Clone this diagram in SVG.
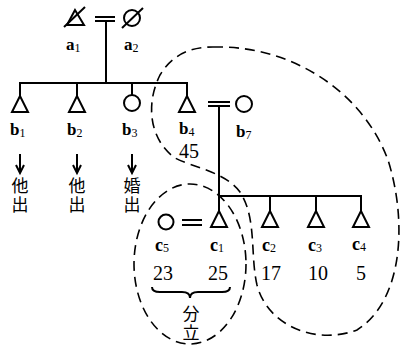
<svg xmlns="http://www.w3.org/2000/svg" width="401" height="348" viewBox="0 0 401 348">
<style>
.ln{stroke:#000;stroke-width:2;fill:none}
.sym{stroke:#000;stroke-width:2;fill:#fff}
.dash{stroke:#000;stroke-width:1.6;fill:none;stroke-dasharray:10 6}
.lbl{font-family:"Liberation Serif",serif;font-weight:bold;fill:#000}
.sub{font-size:12px;font-weight:normal}
.num{font-family:"Liberation Serif",serif;fill:#000;font-size:20px}
.cjk{font-family:"Noto Sans CJK JP","Noto Sans CJK SC",sans-serif;fill:#000;font-size:17px;writing-mode:vertical-rl;letter-spacing:2px}
</style>
<rect width="401" height="348" fill="#fff"/>
<g id="connectors">
<line class="ln" x1="95" y1="17" x2="115" y2="17"/>
<line class="ln" x1="95" y1="21" x2="115" y2="21"/>
<line class="ln" x1="106" y1="21" x2="106" y2="83"/>
<polyline class="ln" points="20,96 20,83 187,83 187,96"/>
<line class="ln" x1="77" y1="83" x2="77" y2="96"/>
<line class="ln" x1="132" y1="83" x2="132" y2="95"/>
<line class="ln" x1="208" y1="102" x2="230" y2="102"/>
<line class="ln" x1="208" y1="106" x2="230" y2="106"/>
<line class="ln" x1="219" y1="106" x2="219" y2="211"/>
<polyline class="ln" points="219,196 361,196 361,211"/>
<line class="ln" x1="270" y1="196" x2="270" y2="211"/>
<line class="ln" x1="316" y1="196" x2="316" y2="211"/>
<line class="ln" x1="182" y1="220" x2="202" y2="220"/>
<line class="ln" x1="182" y1="225" x2="202" y2="225"/>
<g class="ln" stroke-width="1.6">
<path d="M20,154 V172 M16,165 L20,173 L24,165"/>
<path d="M77,154 V172 M73,165 L77,173 L81,165"/>
<path d="M132,154 V172 M128,165 L132,173 L136,165"/>
</g>
<path class="ln" stroke-width="1.5" d="M152,287 Q152,292 160,292 L182,292 Q190,292 190,298 Q190,292 198,292 L222,292 Q230,292 230,287"/>
</g>
<g id="a1"><polygon class="sym" points="75,10 67,25 84,25"/><line class="ln" stroke-width="2.5" x1="64" y1="27" x2="85" y2="7"/>
<text class="lbl" x="66" y="50" font-size="17">a<tspan class="sub" dy="2">1</tspan></text></g>
<g id="a2"><circle class="sym" cx="132" cy="18" r="8"/><line class="ln" stroke-width="2" x1="122" y1="28" x2="143" y2="8"/>
<text class="lbl" x="124" y="50" font-size="17">a<tspan class="sub" dy="2">2</tspan></text></g>
<g id="b1"><polygon class="sym" points="20,96 12,112 28,112"/><text class="lbl" x="10" y="135" font-size="17">b<tspan class="sub" dy="2">1</tspan></text>
<text class="cjk" x="20" y="177">他出</text></g>
<g id="b2"><polygon class="sym" points="77,96 69,112 85,112"/><text class="lbl" x="67" y="135" font-size="17">b<tspan class="sub" dy="2">2</tspan></text>
<text class="cjk" x="77" y="177">他出</text></g>
<g id="b3"><circle class="sym" cx="132" cy="103" r="8"/><text class="lbl" x="122" y="135" font-size="17">b<tspan class="sub" dy="2">3</tspan></text>
<text class="cjk" x="132" y="177">婚出</text></g>
<g id="b4"><polygon class="sym" points="187,96 179,112 195,112"/><text class="lbl" x="179" y="134" font-size="17">b<tspan class="sub" dy="2">4</tspan></text>
<text class="num" x="189" y="158" text-anchor="middle" font-size="18">45</text></g>
<g id="b7"><circle class="sym" cx="244" cy="104" r="8"/><text class="lbl" x="236" y="137" font-size="17">b<tspan class="sub" dy="2">7</tspan></text></g>
<g id="c5"><circle class="sym" cx="166" cy="222" r="7.5"/><text class="lbl" x="155" y="251" font-size="18">c<tspan class="sub" dy="1">5</tspan></text>
<text class="num" x="163" y="280" text-anchor="middle">23</text></g>
<g id="c1"><polygon class="sym" points="219,211 211,227 227,227"/><text class="lbl" x="210" y="251" font-size="18">c<tspan class="sub" dy="1">1</tspan></text>
<text class="num" x="218" y="280" text-anchor="middle">25</text></g>
<g id="c2"><polygon class="sym" points="270,211 262,227 278,227"/><text class="lbl" x="262" y="251" font-size="18">c<tspan class="sub" dy="1">2</tspan></text>
<text class="num" x="271" y="280" text-anchor="middle">17</text></g>
<g id="c3"><polygon class="sym" points="316,211 308,227 324,227"/><text class="lbl" x="308" y="251" font-size="18">c<tspan class="sub" dy="1">3</tspan></text>
<text class="num" x="318" y="280" text-anchor="middle">10</text></g>
<g id="c4"><polygon class="sym" points="361,211 353,227 369,227"/><text class="lbl" x="352" y="250" font-size="18">c<tspan class="sub" dy="1">4</tspan></text>
<text class="num" x="361" y="280" text-anchor="middle">5</text></g>
<g id="bunritsu"><text class="cjk" x="191" y="305" font-size="16" letter-spacing="1">分立</text></g>
<g id="groups">
<ellipse class="dash" cx="190" cy="264" rx="56" ry="80"/>
<path class="dash" d="M213,47 C290,45 362,90 388,160 C407,220 404,300 357,330 C317,345 268,327 257,285 C250,255 257,218 240,192 C225,172 195,168 175,158 C150,140 145,105 160,75 C172,55 190,47 213,47 Z"/>
</g>
</svg>
